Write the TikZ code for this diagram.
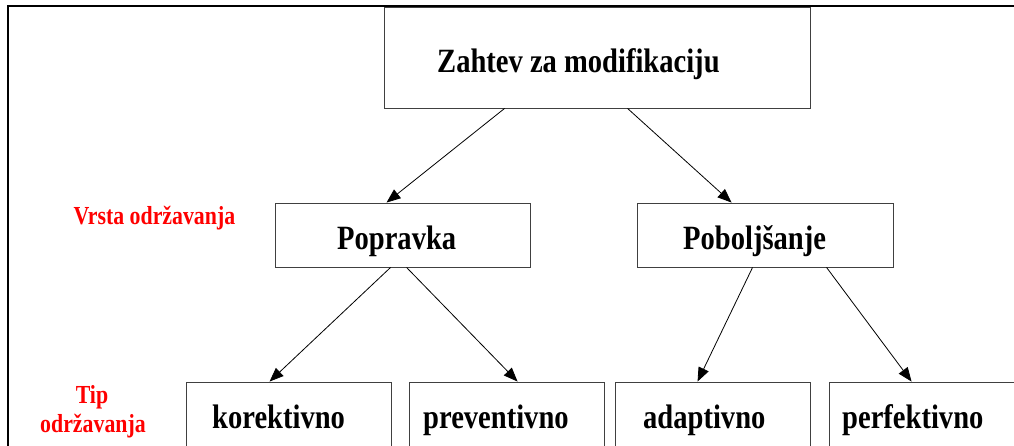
\documentclass[tikz,border=0pt]{standalone}
\usepackage{fontspec}
\usepackage{graphicx}
\setmainfont{Liberation Serif}
\usetikzlibrary{arrows.meta,calc}
\newcommand\narrow[1]{\scalebox{0.84}[1]{#1}}
\begin{document}
\begin{tikzpicture}[x=1pt,y=-1pt,
  box/.style={draw=black!75,line width=0.9pt,inner sep=0pt,minimum width=#1,fill=none},
  txt/.style={inner sep=0pt,anchor=base west,font=\fontsize{34}{40}\selectfont\bfseries},
  redtxt/.style={inner sep=0pt,text=red,font=\fontsize{26}{30}\selectfont\bfseries,align=center},
  conn/.style={line width=0.8pt,-{Triangle[length=14pt,width=11pt]}}]
\useasboundingbox (0,0) rectangle (1014,446);
% outer frame
\draw[line width=2pt] (7.5,460) -- (7.5,6) -- (1020,6);
% boxes
\node[box=426pt,minimum height=101pt] (zahtev) at (597,57.5) {};
\node[box=255pt,minimum height=64pt] (popravka) at (402.5,235) {};
\node[box=256pt,minimum height=64pt] (pobolj) at (765,235) {};
\node[box=205pt,minimum height=64pt] (korek) at (288.5,414) {};
\node[box=195pt,minimum height=64pt] (prev) at (506.5,414) {};
\node[box=195pt,minimum height=64pt] (adapt) at (712.5,414) {};
\node[box=205pt,minimum height=64pt] (perf) at (931.5,414) {};
% texts
\node[txt] (tzahtev) at (437,73) {\narrow{Zahtev za modifikaciju}};
\node[txt] (tpopravka) at (337,250) {\narrow{Popravka}};
\node[txt] (tpobolj) at (683,250) {\narrow{Poboljšanje}};
\node[txt] (tkorek) at (212,428) {\narrow{korektivno}};
\node[txt] (tprev) at (423,428) {\narrow{preventivno}};
\node[txt] (tadapt) at (643,428) {\narrow{adaptivno}};
\node[txt] (tperf) at (842,428) {\narrow{perfektivno}};
% red labels
\node[redtxt,anchor=base] (vrsta) at (154.5,225) {\narrow{Vrsta održavanja}};
\node[redtxt,anchor=base] (tip1) at (92,403) {\narrow{Tip}};
\node[redtxt,anchor=base] (tip2) at (93,432) {\narrow{održavanja}};
% connectors
\draw[conn] ($(zahtev.south west)+(121,0)$) -- ($(popravka.north west)+(112,0)$);
\draw[conn] ($(zahtev.south west)+(244,0)$) -- ($(pobolj.north west)+(95,0)$);
\draw[conn] ($(popravka.south west)+(116,0)$) -- ($(korek.north west)+(84,0)$);
\draw[conn] ($(popravka.south west)+(132,0)$) -- ($(prev.north west)+(109,0)$);
\draw[conn] ($(pobolj.south west)+(116,0)$) -- ($(adapt.north west)+(83,0)$);
\draw[conn] ($(pobolj.south west)+(190,0)$) -- ($(perf.north west)+(83,0)$);
\end{tikzpicture}
\end{document}
